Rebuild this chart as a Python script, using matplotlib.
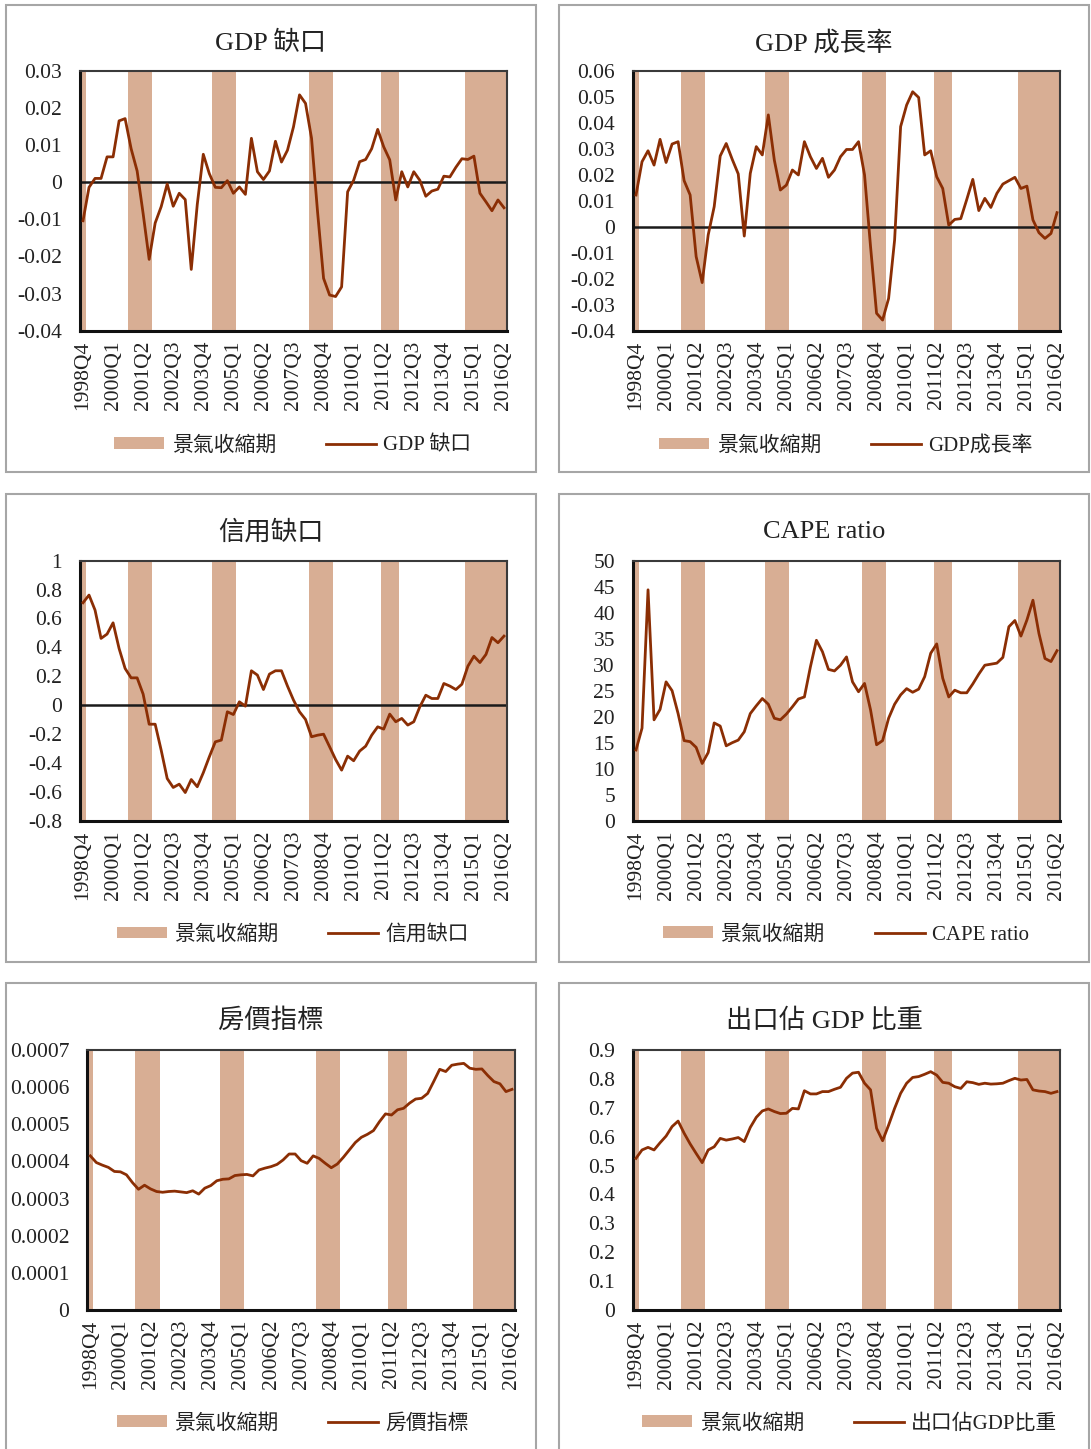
import matplotlib
matplotlib.use("Agg")
import matplotlib.pyplot as plt
from matplotlib.patches import Rectangle, Patch
from matplotlib.lines import Line2D

plt.rcParams['font.family'] = ['Liberation Serif', 'Noto Sans CJK TC']
plt.rcParams['axes.unicode_minus'] = False

# quarterly axis 1998Q4 .. 2016Q2
quarters = [f"{y}Q{q}" for y in range(1998, 2017) for q in range(1, 5)][3:-2]

# recession periods (first, last quarter)
recessions = [("1998Q4", "1998Q4"), ("2000Q4", "2001Q3"), ("2004Q2", "2005Q1"),
              ("2008Q2", "2009Q1"), ("2011Q2", "2011Q4"), ("2014Q4", "2016Q2")]

gdp_gap = [-0.0104, -0.0014, 0.0010, 0.0010, 0.0068, 0.0068, 0.0165, 0.0171, 0.0090, 0.0030,
           -0.0085, -0.0208, -0.0110, -0.0066, -0.0005, -0.0065, -0.0030, -0.0047, -0.0235, -0.0060,
           0.0075, 0.0023, -0.0014, -0.0015, 0.0004, -0.0030, -0.0013, -0.0033, 0.0118, 0.0028,
           0.0007, 0.0030, 0.0110, 0.0054, 0.0086, 0.0149, 0.0235, 0.0212, 0.0118, -0.0080,
           -0.0259, -0.0304, -0.0308, -0.0282, -0.0026, 0.0005, 0.0055, 0.0061, 0.0090, 0.0142,
           0.0095, 0.0060, -0.0048, 0.0028, -0.0013, 0.0028, 0.0005, -0.0038, -0.0024, -0.0019,
           0.0016, 0.0014, 0.0040, 0.0063, 0.0061, 0.0070, -0.0030, -0.0053, -0.0077, -0.0048,
           -0.0069]

gdp_growth = [0.0122, 0.0250, 0.0292, 0.0237, 0.0336, 0.0247, 0.0318, 0.0327, 0.0177, 0.0122,
              -0.0115, -0.0215, -0.0032, 0.0077, 0.0272, 0.0320, 0.0259, 0.0203, -0.0036, 0.0205,
              0.0308, 0.0276, 0.0430, 0.0256, 0.0141, 0.0160, 0.0218, 0.0199, 0.0327, 0.0269,
              0.0224, 0.0263, 0.0190, 0.0218, 0.0269, 0.0297, 0.0297, 0.0327, 0.0199, -0.0077,
              -0.0333, -0.0359, -0.0276, -0.0051, 0.0385, 0.0468, 0.0519, 0.0497, 0.0276, 0.0292,
              0.0192, 0.0147, 0.0006, 0.0028, 0.0031, 0.0105, 0.0182, 0.0062, 0.0109, 0.0074,
              0.0128, 0.0164, 0.0177, 0.0190, 0.0147, 0.0156, 0.0026, -0.0023, -0.0045, -0.0026,
              0.0054]

credit_gap = [0.709, 0.762, 0.658, 0.462, 0.492, 0.570, 0.392, 0.254, 0.189, 0.189,
              0.076, -0.132, -0.132, -0.312, -0.508, -0.570, -0.547, -0.605, -0.515, -0.565,
              -0.468, -0.358, -0.254, -0.242, -0.046, -0.065, 0.023, -0.007, 0.238, 0.208,
              0.108, 0.215, 0.238, 0.238, 0.132, 0.035, -0.046, -0.099, -0.219, -0.208,
              -0.201, -0.288, -0.376, -0.450, -0.353, -0.385, -0.318, -0.284, -0.208, -0.150,
              -0.166, -0.062, -0.115, -0.092, -0.138, -0.115, -0.012, 0.069, 0.046, 0.046,
              0.150, 0.132, 0.108, 0.145, 0.270, 0.339, 0.295, 0.351, 0.468, 0.432,
              0.478]

cape = [13.6, 17.8, 44.4, 19.4, 21.4, 26.7, 25.0, 20.6, 15.4, 15.2,
        14.1, 11.0, 13.1, 18.8, 18.2, 14.4, 15.0, 15.5, 17.1, 20.6,
        22.1, 23.5, 22.4, 19.7, 19.4, 20.5, 21.9, 23.4, 23.8, 29.6,
        34.7, 32.5, 29.1, 28.8, 29.9, 31.5, 26.7, 24.8, 26.4, 21.3,
        14.6, 15.4, 19.7, 22.4, 24.2, 25.4, 24.7, 25.3, 27.7, 32.2,
        34.0, 27.4, 23.8, 25.1, 24.6, 24.6, 26.3, 28.2, 29.9, 30.1,
        30.3, 31.4, 37.3, 38.5, 35.5, 38.6, 42.4, 36.0, 31.2, 30.6,
        32.7]

house_price = [4.15, 3.97, 3.90, 3.84, 3.73, 3.72, 3.64, 3.43, 3.25, 3.36,
               3.26, 3.19, 3.17, 3.19, 3.20, 3.18, 3.16, 3.21, 3.12, 3.28,
               3.35, 3.48, 3.52, 3.53, 3.62, 3.64, 3.65, 3.61, 3.77, 3.82,
               3.86, 3.92, 4.04, 4.20, 4.20, 4.02, 3.95, 4.15, 4.08, 3.95,
               3.83, 3.93, 4.11, 4.31, 4.51, 4.65, 4.73, 4.83, 5.07, 5.28,
               5.25, 5.39, 5.43, 5.57, 5.68, 5.70, 5.83, 6.15, 6.48, 6.42,
               6.59, 6.62, 6.64, 6.51, 6.48, 6.49, 6.31, 6.15, 6.09, 5.88,
               5.94]
house_price = [v * 1e-4 for v in house_price]

export_share = [0.525, 0.554, 0.563, 0.554, 0.579, 0.602, 0.635, 0.654, 0.612, 0.575,
                0.542, 0.510, 0.554, 0.565, 0.594, 0.588, 0.592, 0.597, 0.583, 0.632,
                0.667, 0.689, 0.696, 0.687, 0.680, 0.681, 0.698, 0.696, 0.759, 0.748,
                0.748, 0.756, 0.756, 0.764, 0.771, 0.802, 0.820, 0.823, 0.785, 0.762,
                0.629, 0.586, 0.640, 0.698, 0.750, 0.785, 0.805, 0.808, 0.816, 0.825,
                0.813, 0.788, 0.785, 0.773, 0.767, 0.790, 0.787, 0.781, 0.785, 0.782,
                0.783, 0.785, 0.794, 0.802, 0.796, 0.798, 0.762, 0.758, 0.756, 0.750,
                0.756]

LINE = '#8B2E04'
SHADE = '#D8AE94'
W, H = 1091, 1449

fig = plt.figure(figsize=(W / 100, H / 100), dpi=100)


def px_axes(x0, y0, x1, y1):
    # pixel box measured from top-left -> figure fraction
    return fig.add_axes([x0 / W, 1 - y1 / H, (x1 - x0) / W, (y1 - y0) / H])


def panel(box, plot, title, series, label, yticks, legend_x):
    bx0, by0, bx1, by1 = box
    fig.patches.append(Rectangle((bx0 / W, 1 - by1 / H), (bx1 - bx0) / W, (by1 - by0) / H,
                                 transform=fig.transFigure, fill=False,
                                 edgecolor='#A6A6A6', lw=1.5))
    ax = px_axes(*plot)
    ymin, ymax = yticks[-1], yticks[0]
    x = list(range(len(quarters)))
    flags = [0] * len(quarters)
    for a, b in recessions:
        for i in range(quarters.index(a), quarters.index(b) + 1):
            flags[i] = 1
    ax.bar(x, [f * (ymax - ymin) for f in flags], bottom=ymin, width=1.0,
           color=SHADE, linewidth=0, zorder=1)
    if ymin < 0:
        ax.axhline(0, color='#1a1a1a', lw=1.8, zorder=2)
    ax.plot(x, series, color=LINE, lw=2.0, zorder=3)
    ax.set_xlim(-0.5, len(quarters) - 0.5)
    ax.set_ylim(ymin, ymax)
    ax.set_yticks(yticks)
    ax.set_yticklabels(['%g' % v for v in yticks])
    ax.set_xticks(x[::5])
    ax.set_xticklabels(quarters[::5], rotation=90)
    ax.tick_params(length=0, labelsize=15.5, colors='#222222')
    ax.tick_params(axis='y', pad=13)
    ax.tick_params(axis='x', pad=7)
    for side in ('top', 'right'):
        ax.spines[side].set_color('#3a3a3a')
        ax.spines[side].set_linewidth(1.5)
    for side in ('left', 'bottom'):
        ax.spines[side].set_color('#111111')
        ax.spines[side].set_linewidth(2.2)
    fig.text((bx0 + bx1) / 2 / W, 1 - (by0 + 38) / H, title, ha='center', va='center',
             fontsize=19, color='#222222')
    handles = [Patch(facecolor=SHADE, edgecolor='none'), Line2D([], [], color=LINE, lw=2)]
    fig.legend(handles, ['景氣收縮期', label], ncol=2, frameon=False, fontsize=15,
               loc='center', bbox_to_anchor=(legend_x / W, 1 - (by0 + 441) / H),
               handlelength=2.4, handleheight=0.5, handletextpad=0.35, columnspacing=2.4,
               labelcolor='#222222')
    return ax


panel((6, 5, 536, 472), (80, 70.7, 507, 330.7), 'GDP 缺口', gdp_gap, 'GDP 缺口',
      [0.03, 0.02, 0.01, 0, -0.01, -0.02, -0.03, -0.04], 293)
panel((559, 5, 1089, 472), (633, 70.7, 1060, 330.7), 'GDP 成長率', gdp_growth, 'GDP成長率',
      [0.06, 0.05, 0.04, 0.03, 0.02, 0.01, 0, -0.01, -0.02, -0.03, -0.04], 846)
panel((6, 494, 536, 962), (80, 560.7, 507, 820.7), '信用缺口', credit_gap, '信用缺口',
      [1, 0.8, 0.6, 0.4, 0.2, 0, -0.2, -0.4, -0.6, -0.8], 293)
panel((559, 494, 1089, 962), (633, 560.7, 1060, 820.7), 'CAPE ratio', cape, 'CAPE ratio',
      [50, 45, 40, 35, 30, 25, 20, 15, 10, 5, 0], 846)
panel((6, 983, 536, 1452), (87.3, 1050, 515, 1310), '房價指標', house_price, '房價指標',
      [0.0007, 0.0006, 0.0005, 0.0004, 0.0003, 0.0002, 0.0001, 0], 293)
panel((559, 983, 1089, 1452), (633, 1050, 1060, 1310), '出口佔 GDP 比重', export_share,
      '出口佔GDP比重', [0.9, 0.8, 0.7, 0.6, 0.5, 0.4, 0.3, 0.2, 0.1, 0], 850)

fig.savefig('out.png', dpi=100)
